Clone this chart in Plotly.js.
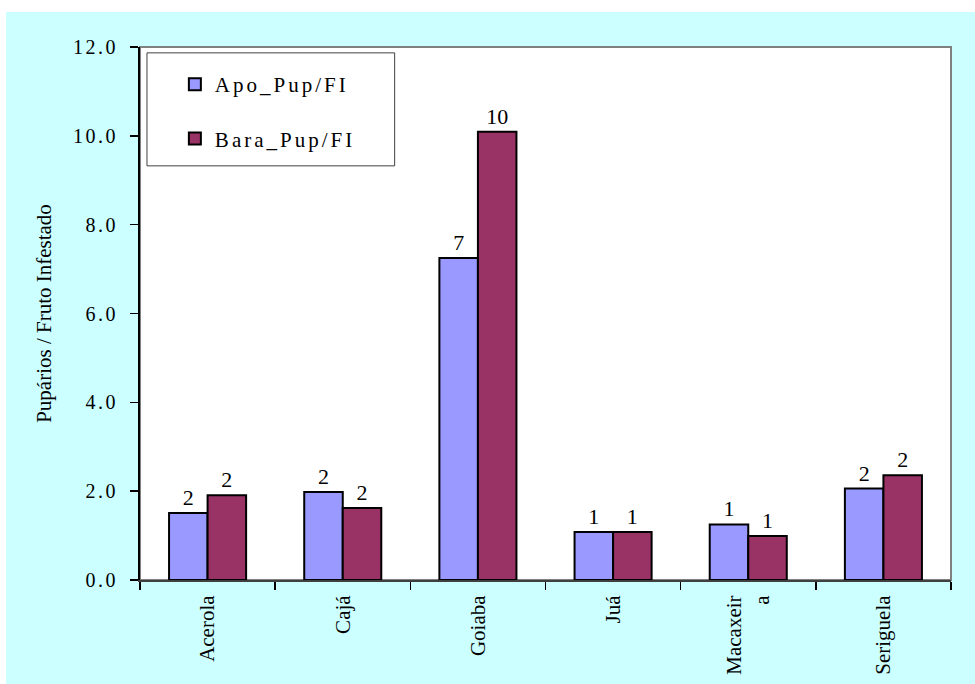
<!DOCTYPE html>
<html>
<head>
<meta charset="utf-8">
<script src="https://cdn.plot.ly/plotly-3.0.1.min.js"></script>
<style>
html,body{margin:0;padding:0;background:#ffffff;width:975px;height:684px;overflow:hidden;}
#chart{position:absolute;left:6px;top:12px;width:969px;height:672px;}
#chart .legendtext{letter-spacing:3px;}
#chart .legend .scrollbox{clip-path:none !important;}
#chart .legend{clip-path:none !important;}
#chart .ytick text{letter-spacing:2.5px;}
</style>
</head>
<body>
<div id="chart"></div>
<script>
const categories = ["Acerola", "Cajá", "Goiaba", "Juá", "Macaxeir<br>a", "Seriguela"];
const apoValues = [1.51, 1.98, 7.25, 1.08, 1.25, 2.06];
const baraValues = [1.91, 1.62, 10.09, 1.08, 0.99, 2.36];
const seriesNames = ["Apo_Pup/FI", "Bara_Pup/FI"];
const yTitle = "Pupários / Fruto Infestado";

const serif = "Liberation Serif";

const traces = [
  {
    type: "bar", x: categories, y: apoValues, name: seriesNames[0], legendgroup: "a",
    marker: {color: "#9999ff", line: {color: "#000000", width: 2}},
    texttemplate: "%{y:.0f}", textposition: "outside", cliponaxis: false,
    textfont: {family: serif, size: 22, color: "#000000"}
  },
  {
    type: "bar", x: categories, y: baraValues, name: seriesNames[1], legendgroup: "b",
    marker: {color: "#993366", line: {color: "#000000", width: 2}},
    texttemplate: "%{y:.0f}", textposition: "outside", cliponaxis: false,
    textfont: {family: serif, size: 22, color: "#000000"}
  }
];

const layout = {
  width: 969, height: 672,
  margin: {l: 134, r: 24, t: 35, b: 104, pad: 0},
  paper_bgcolor: "#ccffff",
  plot_bgcolor: "#ffffff",
  font: {family: serif, size: 18, color: "#000000"},
  barmode: "group",
  bargap: 0.43,
  bargroupgap: 0,
  showlegend: true,
  legend: {
    x: 0.043, y: 0.968, xanchor: "left", yanchor: "top",
    bgcolor: "rgba(0,0,0,0)", borderwidth: 0,
    font: {family: serif, size: 21, color: "#000000"},
    traceorder: "grouped", tracegroupgap: 24
  },
  xaxis: {
    type: "category",
    tickangle: -90,
    tickson: "boundaries",
    ticks: "outside", ticklen: 8, tickcolor: "#000000", tickwidth: 1.5,
    showline: true, linecolor: "#404040", linewidth: 2,
    showgrid: false,
    ticklabelstandoff: 5,
    tickfont: {family: serif, size: 21, color: "#000000"}
  },
  yaxis: {
    range: [0, 12], dtick: 2, tickformat: ".1f",
    ticks: "outside", ticklen: 8, tickcolor: "#000000", tickwidth: 1.5,
    showline: true, linecolor: "#000000", linewidth: 2,
    showgrid: false, zeroline: false,
    ticklabelstandoff: 8,
    tickfont: {family: serif, size: 20, color: "#000000"},
    title: {text: yTitle, font: {family: serif, size: 21, color: "#000000"}, standoff: 26}
  },
  shapes: [
    {type: "rect", xref: "paper", yref: "paper", x0: 0, x1: 1, y0: 0, y1: 1,
     line: {color: "#808080", width: 2}, layer: "below"},
    {type: "rect", xref: "paper", yref: "paper", x0: 0.0086, x1: 0.314, y0: 0.777, y1: 0.989,
     line: {color: "#404040", width: 1}, fillcolor: "#ffffff", layer: "below"}
  ]
};

Plotly.newPlot("chart", traces, layout, {displayModeBar: false, staticPlot: true});
</script>
</body>
</html>
